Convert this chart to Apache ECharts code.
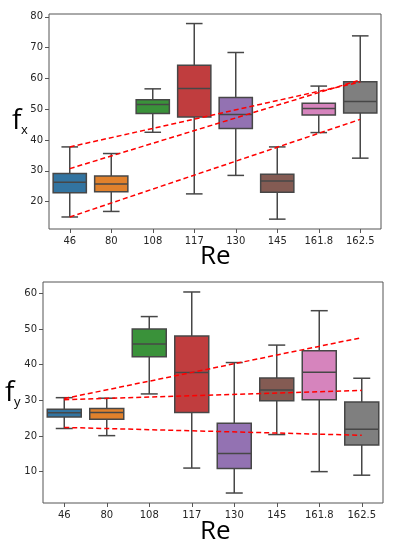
<!DOCTYPE html>
<html>
<head>
<meta charset="utf-8">
<script src="https://cdn.jsdelivr.net/npm/echarts@6/dist/echarts.min.js"></script>
<style>
html,body{margin:0;padding:0;background:#fff;}
#chart{width:395px;height:550px;}
</style>
</head>
<body>
<div id="chart"></div>
<script>
// ---- data ----
const categories = ['46', '80', '108', '117', '130', '145', '161.8', '162.5'];

const fxMin = [15.0, 16.8, 42.5, 22.5, 28.5, 14.3, 42.4, 34.1];
const fxQ1  = [22.9, 23.2, 48.6, 47.5, 43.7, 23.0, 48.1, 48.8];
const fxMed = [26.3, 25.7, 51.5, 56.7, 48.3, 26.7, 50.2, 52.5];
const fxQ3  = [29.1, 28.3, 53.1, 64.3, 53.8, 28.9, 51.9, 58.9];
const fxMax = [37.75, 35.6, 56.6, 77.8, 68.4, 37.75, 57.5, 73.8];

const fyMin = [22.1, 20.1, 31.8, 11.0, 4.0, 20.4, 10.0, 9.0];
const fyQ1  = [25.3, 24.7, 42.25, 26.6, 10.9, 29.9, 30.2, 17.5];
const fyMed = [26.5, 26.6, 45.8, 37.8, 15.1, 32.9, 37.9, 21.9];
const fyQ3  = [27.5, 27.7, 50.0, 48.05, 23.6, 36.3, 43.9, 29.5];
const fyMax = [30.75, 30.6, 53.5, 60.4, 40.6, 45.5, 55.15, 36.2];

// trend lines: [value at first category, value at last category]
const fxTrendA = [37.75, 58.8];
const fxTrendB = [30.7, 59.5];
const fxTrendC = [15.0, 46.7];
const fyTrendA = [30.5, 47.6];
const fyTrendB = [30.2, 32.8];
const fyTrendC = [22.4, 20.2];

const fxTicks = [20, 30, 40, 50, 60, 70, 80];
const fyTicks = [10, 20, 30, 40, 50, 60];

// ---- style ----
const boxColors = ['#3274a1', '#e1812c', '#3a923a', '#c03d3e', '#9372b2', '#845b53', '#d684bd', '#7f7f7f'];
const edge = '#474747';
const tickFont = 'DejaVu Sans';

function boxData(mn, q1, md, q3, mx) {
  return categories.map((c, i) => [i, mn[i], q1[i], md[i], q3[i], mx[i]]);
}
function trendData(t) {
  return categories.map((c, i) => i === 0 ? t[0] : (i === categories.length - 1 ? t[1] : null));
}

function renderBox(params, api) {
  const i = api.value(0);
  const band = api.size([1, 0])[0];
  const bw = band * 0.8;
  const pMin = api.coord([i, api.value(1)]);
  const pQ1 = api.coord([i, api.value(2)]);
  const pMed = api.coord([i, api.value(3)]);
  const pQ3 = api.coord([i, api.value(4)]);
  const pMax = api.coord([i, api.value(5)]);
  const x = pMin[0];
  const ls = {stroke: edge, lineWidth: 1.5};
  return {
    type: 'group',
    children: [
      {type: 'line', shape: {x1: x, y1: pQ1[1], x2: x, y2: pMin[1]}, style: ls},
      {type: 'line', shape: {x1: x, y1: pQ3[1], x2: x, y2: pMax[1]}, style: ls},
      {type: 'line', shape: {x1: x - bw / 4, y1: pMin[1], x2: x + bw / 4, y2: pMin[1]}, style: ls},
      {type: 'line', shape: {x1: x - bw / 4, y1: pMax[1], x2: x + bw / 4, y2: pMax[1]}, style: ls},
      {type: 'rect', shape: {x: x - bw / 2, y: pQ3[1], width: bw, height: pQ1[1] - pQ3[1]},
        style: {fill: boxColors[i], stroke: edge, lineWidth: 1.5}},
      {type: 'line', shape: {x1: x - bw / 2, y1: pMed[1], x2: x + bw / 2, y2: pMed[1]}, style: ls}
    ]
  };
}

const axisCommon = {
  axisLine: {show: false},
  splitLine: {show: false}
};

function xAxis(gi) {
  return Object.assign({}, axisCommon, {
    type: 'category', gridIndex: gi, data: categories,
    axisTick: {show: true, alignWithLabel: true, length: 4, lineStyle: {color: '#555'}},
    axisLabel: {color: '#262626', fontFamily: tickFont, fontSize: 10, margin: 7}
  });
}
function yAxis(gi, mn, mx, ticks) {
  return Object.assign({}, axisCommon, {
    type: 'value', gridIndex: gi, min: mn, max: mx,
    axisTick: {show: true, length: 4, lineStyle: {color: '#555'}, customValues: ticks},
    axisLabel: {color: '#262626', fontFamily: tickFont, fontSize: 10, margin: 6, customValues: ticks}
  });
}
function trendSeries(gi, t) {
  return {
    type: 'line', xAxisIndex: gi, yAxisIndex: gi, data: trendData(t), connectNulls: true,
    symbol: 'none', z: 5, silent: true,
    lineStyle: {color: '#ff0000', width: 1.5, type: [5, 3]}
  };
}

const chart = echarts.init(document.getElementById('chart'), null, {renderer: 'canvas'});
chart.setOption({
  animation: false,
  backgroundColor: '#ffffff',
  grid: [
    {left: 49, top: 14, width: 332, height: 215, show: true, borderColor: '#555', borderWidth: 1, backgroundColor: 'transparent'},
    {left: 43, top: 282, width: 340, height: 221, show: true, borderColor: '#555', borderWidth: 1, backgroundColor: 'transparent'}
  ],
  xAxis: [xAxis(0), xAxis(1)],
  yAxis: [yAxis(0, 11.1, 80.9, fxTicks), yAxis(1, 1.2, 63.2, fyTicks)],
  series: [
    {type: 'custom', xAxisIndex: 0, yAxisIndex: 0, renderItem: renderBox,
      data: boxData(fxMin, fxQ1, fxMed, fxQ3, fxMax), encode: {x: 0, y: [1, 2, 3, 4, 5]}, z: 2},
    {type: 'custom', xAxisIndex: 1, yAxisIndex: 1, renderItem: renderBox,
      data: boxData(fyMin, fyQ1, fyMed, fyQ3, fyMax), encode: {x: 0, y: [1, 2, 3, 4, 5]}, z: 2},
    trendSeries(0, fxTrendA), trendSeries(0, fxTrendB), trendSeries(0, fxTrendC),
    trendSeries(1, fyTrendA), trendSeries(1, fyTrendB), trendSeries(1, fyTrendC)
  ],
  graphic: [
    {type: 'text', left: 200, top: 244, style: {text: 'Re', font: '26px "Open Sans"', fill: '#000'}},
    {type: 'text', left: 200, top: 519, style: {text: 'Re', font: '26px "Open Sans"', fill: '#000'}},
    {type: 'text', left: 12, top: 107, style: {text: 'f', font: '28px "Open Sans"', fill: '#000'}},
    {type: 'text', left: 21, top: 124, style: {text: 'x', font: '13px "Open Sans"', fill: '#000'}},
    {type: 'text', left: 5, top: 379, style: {text: 'f', font: '28px "Open Sans"', fill: '#000'}},
    {type: 'text', left: 14, top: 396, style: {text: 'y', font: '13px "Open Sans"', fill: '#000'}}
  ]
});
</script>
</body>
</html>
